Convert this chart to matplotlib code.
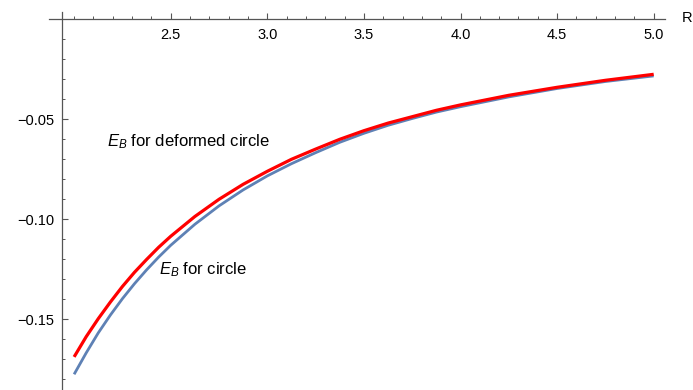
import matplotlib
matplotlib.use("Agg")
import matplotlib.pyplot as plt
from matplotlib.ticker import FixedLocator, FuncFormatter

plt.rcParams['font.family'] = ['Liberation Sans', 'DejaVu Sans']
plt.rcParams['mathtext.fontset'] = 'custom'
plt.rcParams['mathtext.it'] = 'Liberation Sans:italic'
plt.rcParams['mathtext.rm'] = 'Liberation Sans'

R = [2.0, 2.0625, 2.125, 2.1875, 2.25, 2.3125, 2.375, 2.4375, 2.5, 2.625,
     2.75, 2.875, 3.0, 3.125, 3.25, 3.375, 3.5, 3.625, 3.75, 3.875, 4.0,
     4.25, 4.5, 4.75, 5.0]
E_deformed = [-0.1688, -0.1587, -0.1497, -0.1414, -0.1336, -0.1265, -0.1201,
              -0.1140, -0.1085, -0.0986, -0.0900, -0.0825, -0.0760, -0.0700,
              -0.0649, -0.0600, -0.0557, -0.0519, -0.0487, -0.0455, -0.0428,
              -0.0380, -0.0340, -0.0305, -0.0275]
E_circle = [-0.1775, -0.1668, -0.1568, -0.1479, -0.1397, -0.1322, -0.1253,
            -0.1189, -0.1130, -0.1025, -0.0933, -0.0853, -0.0783, -0.0722,
            -0.0667, -0.0615, -0.0570, -0.0530, -0.0496, -0.0464, -0.0437,
            -0.0388, -0.0346, -0.0311, -0.0283]
x_major = [2.5, 3.0, 3.5, 4.0, 4.5, 5.0]
y_major = [-0.05, -0.10, -0.15]

W, H = 693, 390
fig = plt.figure(figsize=(W / 100, H / 100), dpi=100)
ax = fig.add_axes([49 / W, 0.0, (665 - 49) / W, 378 / H])

ax.plot(R, E_circle, color='#5E81B5', lw=2.0, solid_capstyle='butt', zorder=3)
ax.plot(R, E_deformed, color='#FF0000', lw=2.3, solid_capstyle='butt', zorder=4)

ax.set_xlim(1.870, 5.0585)
ax.set_ylim(-0.18535, 0.00365)

for s in ['top', 'right']:
    ax.spines[s].set_visible(False)
ax.spines['bottom'].set_position(('data', 0))
ax.spines['left'].set_position(('data', 1.935))
for s in ['bottom', 'left']:
    ax.spines[s].set_color('#555555')
    ax.spines[s].set_linewidth(0.9)

ax.xaxis.set_major_locator(FixedLocator(x_major))
ax.xaxis.set_minor_locator(FixedLocator([round(2.0 + 0.1 * i, 2) for i in range(31)]))
ax.yaxis.set_major_locator(FixedLocator(y_major))
ax.yaxis.set_minor_locator(FixedLocator([round(-0.01 * i, 2) for i in range(1, 19)]))
ax.xaxis.set_major_formatter(FuncFormatter(lambda v, p: f'{v:.1f}'))
ax.yaxis.set_major_formatter(FuncFormatter(lambda v, p: f'{v:.2f}'.replace('-', '\u2212')))

ax.tick_params(axis='x', which='major', direction='in', length=4.5, width=0.8,
               color='#555555', labelsize=10.5, pad=6)
ax.tick_params(axis='x', which='minor', direction='in', length=2.5, width=0.7,
               color='#555555')
ax.tick_params(axis='y', which='major', direction='in', length=4.5, width=0.8,
               color='#555555', labelsize=10.5, pad=5)
ax.tick_params(axis='y', which='minor', direction='in', length=2.5, width=0.7,
               color='#555555')

fig.text(687 / W, 1 - 18 / H, 'R', fontsize=10.5, ha='center', va='center')

ax.text(2.17, -0.0612, r'$E_B$ for deformed circle', fontsize=12,
        ha='left', va='center')
ax.text(2.437, -0.1254, r'$E_B$ for circle', fontsize=12,
        ha='left', va='center')

fig.savefig('out.png', dpi=100)
